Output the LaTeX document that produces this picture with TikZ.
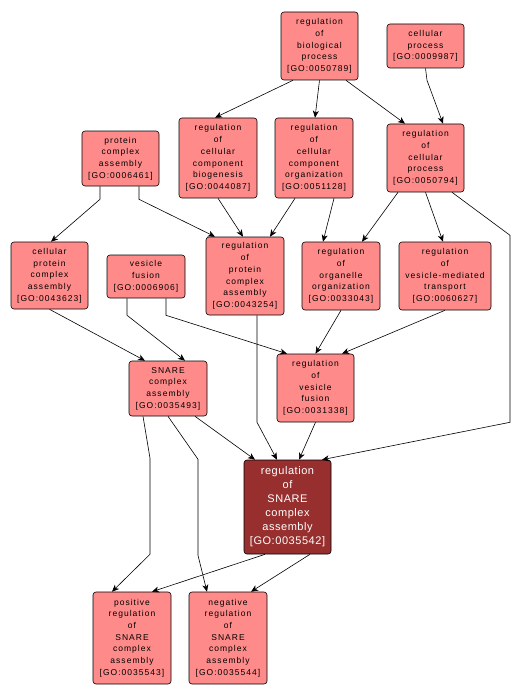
\documentclass[tikz,border=0pt]{standalone}
\usepackage{fontspec}
\setmainfont{Liberation Sans}
\newfontfamily\lbl[LetterSpace=12]{Liberation Sans}
\newfontfamily\lblb[LetterSpace=5]{Liberation Sans}
\usetikzlibrary{arrows.meta,calc}
\definecolor{nodefill}{HTML}{FF8A8A}
\definecolor{darkfill}{HTML}{982F2F}
\begin{document}
\begin{tikzpicture}[x=1pt,y=-1pt,
 go/.style={draw=black, fill=nodefill, rounded corners=3pt, align=center, inner sep=0pt,
   font=\lbl\fontsize{8.5}{11.7}\selectfont, line width=0.6pt},
 dark/.style={go, fill=darkfill, text=white, font=\lblb\fontsize{11}{14}\selectfont},
 arr/.style={-{Stealth[length=7pt,width=6pt,inset=2pt]}, line width=0.6pt}]
\fill[white] (0,0) rectangle (521,698);
\useasboundingbox (0,0) rectangle (521,698);

\node[go, minimum width=77, minimum height=68] (bio) at (319.5,46) {regulation\\of\\biological\\process\\{[GO:0050789]}};
\node[go, minimum width=77, minimum height=44] (cp) at (425.5,46) {cellular\\process\\{[GO:0009987]}};
\node[go, minimum width=77, minimum height=55] (pca) at (120.5,158.5) {protein\\complex\\assembly\\{[GO:0006461]}};
\node[go, minimum width=78, minimum height=80] (rccb) at (218,158) {regulation\\of\\cellular\\component\\biogenesis\\{[GO:0044087]}};
\node[go, minimum width=78, minimum height=80] (rcco) at (314,158) {regulation\\of\\cellular\\component\\organization\\{[GO:0051128]}};
\node[go, minimum width=77, minimum height=68] (rcp) at (425.5,158) {regulation\\of\\cellular\\process\\{[GO:0050794]}};
\node[go, minimum width=77, minimum height=67] (cpca) at (49.5,275.5) {cellular\\protein\\complex\\assembly\\{[GO:0043623]}};
\node[go, minimum width=78, minimum height=43] (vf) at (146,276.5) {vesicle\\fusion\\{[GO:0006906]}};
\node[go, minimum width=78, minimum height=78] (rpca) at (245,276) {regulation\\of\\protein\\complex\\assembly\\{[GO:0043254]}};
\node[go, minimum width=78, minimum height=68] (roo) at (341,276) {regulation\\of\\organelle\\organization\\{[GO:0033043]}};
\node[go, minimum width=92, minimum height=68] (rvmt) at (445,276) {regulation\\of\\vesicle-mediated\\transport\\{[GO:0060627]}};
\node[go, minimum width=78, minimum height=55] (snare) at (168,388.5) {SNARE\\complex\\assembly\\{[GO:0035493]}};
\node[go, minimum width=77, minimum height=68] (rvf) at (315.5,388) {regulation\\of\\vesicle\\fusion\\{[GO:0031338]}};
\node[dark, minimum width=87, minimum height=94] (rsnare) at (287.5,507) {regulation\\of\\SNARE\\complex\\assembly\\{[GO:0035542]}};
\node[go, minimum width=78, minimum height=92] (pos) at (132,638) {positive\\regulation\\of\\SNARE\\complex\\assembly\\{[GO:0035543]}};
\node[go, minimum width=78, minimum height=92] (neg) at (228,638) {negative\\regulation\\of\\SNARE\\complex\\assembly\\{[GO:0035544]}};

\draw[arr] ($(bio.south)+(-26.5,0)$) -- ($(rccb.north)+(-3,0)$);
\draw[arr] (bio.south) -- ($(rcco.north)+(1,0)$);
\draw[arr] ($(bio.south)+(26.5,0)$) -- ($(rcp.north)+(-20.5,0)$);
\draw[arr] (cp.south) -- ($(cp.south)+(1.5,12)$) -- ($(rcp.north)+(17.5,0)$);
\draw[arr] ($(pca.south)+(-20.5,0)$) -- ++(0,13) -- ($(cpca.north)+(1.5,0)$);
\draw[arr] ($(pca.south)+(18.5,0)$) -- ++(0,13) -- ($(rpca.north)+(-30,0)$);
\draw[arr] (rccb.south) -- ($(rpca.north)+(-2,0)$);
\draw[arr] ($(rcco.south)+(-19,0)$) -- ($(rpca.north)+(25,0)$);
\draw[arr] ($(rcco.south)+(20,0)$) -- ($(roo.north)+(-18,0)$);
\draw[arr] ($(rcp.south)+(-27.5,0)$) -- ($(roo.north)+(21,0)$);
\draw[arr] (rcp.south) -- ($(rvmt.north)+(-2,0)$);
\draw[arr] ($(rcp.south)+(26.5,0)$) -- ($(rcp.south)+(84.5,43)$) -- ($(rcp.south)+(84.5,230)$) -- ($(rsnare.north)+(34.5,0)$);
\draw[arr] (cpca.south) -- ($(snare.north)+(-23,0)$);
\draw[arr] ($(vf.south)+(-19,0)$) -- ++(0,17) -- ($(snare.north)+(17,0)$);
\draw[arr] ($(vf.south)+(20,0)$) -- ++(0,17) -- ($(rvf.north)+(-28.5,0)$);
\draw[arr] (roo.south) -- (rvf.north);
\draw[arr] (rvmt.south) -- ($(rvf.north)+(26.5,0)$);
\draw[arr] ($(rpca.south)+(12,0)$) -- ++(0,107) -- ($(rsnare.north)+(-10.5,0)$);
\draw[arr] ($(snare.south)+(27,0)$) -- ($(rsnare.north)+(-32.5,0)$);
\draw[arr] ($(snare.south)+(-25,0)$) -- ($(snare.south)+(-18,42)$) -- ($(snare.south)+(-18,138)$) -- ($(pos.north)+(-20,0)$);
\draw[arr] (snare.south) -- ($(snare.south)+(30,43)$) -- ($(snare.south)+(30,139)$) -- ($(neg.north)+(-21,0)$);
\draw[arr] (rvf.south) -- ($(rsnare.north)+(11.5,0)$);
\draw[arr] ($(rsnare.south)+(-22.5,0)$) -- ($(pos.north)+(20,0)$);
\draw[arr] ($(rsnare.south)+(22.5,0)$) -- ($(neg.north)+(23,0)$);
\end{tikzpicture}
\end{document}
